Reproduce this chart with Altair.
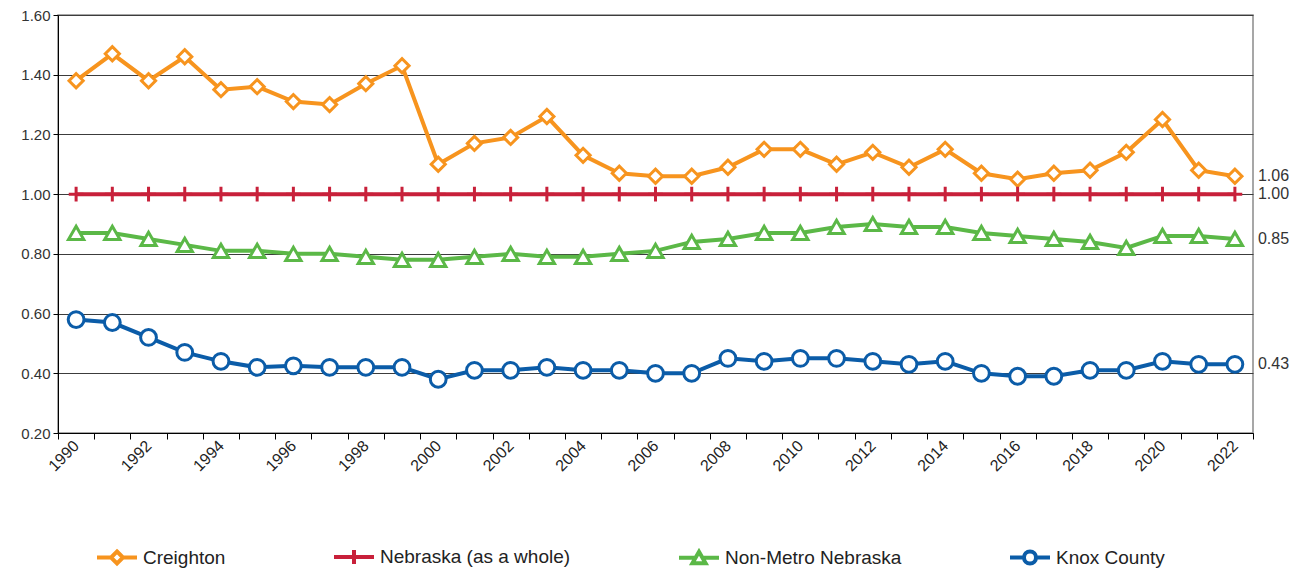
import altair as alt
import pandas as pd

years = [1990, 1991, 1992, 1993, 1994, 1995, 1996, 1997, 1998, 1999, 2000,
         2001, 2002, 2003, 2004, 2005, 2006, 2007, 2008, 2009, 2010, 2011,
         2012, 2013, 2014, 2015, 2016, 2017, 2018, 2019, 2020, 2021, 2022]
creighton = [1.38, 1.47, 1.38, 1.46, 1.35, 1.36, 1.31, 1.30, 1.37, 1.43, 1.10,
             1.17, 1.19, 1.26, 1.13, 1.07, 1.06, 1.06, 1.09, 1.15, 1.15, 1.10,
             1.14, 1.09, 1.15, 1.07, 1.05, 1.07, 1.08, 1.14, 1.25, 1.08, 1.06]
nebraska = [1.00, 1.00, 1.00, 1.00, 1.00, 1.00, 1.00, 1.00, 1.00, 1.00, 1.00,
            1.00, 1.00, 1.00, 1.00, 1.00, 1.00, 1.00, 1.00, 1.00, 1.00, 1.00,
            1.00, 1.00, 1.00, 1.00, 1.00, 1.00, 1.00, 1.00, 1.00, 1.00, 1.00]
nonmetro = [0.87, 0.87, 0.85, 0.83, 0.81, 0.81, 0.80, 0.80, 0.79, 0.78, 0.78,
            0.79, 0.80, 0.79, 0.79, 0.80, 0.81, 0.84, 0.85, 0.87, 0.87, 0.89,
            0.90, 0.89, 0.89, 0.87, 0.86, 0.85, 0.84, 0.82, 0.86, 0.86, 0.85]
knox = [0.58, 0.57, 0.52, 0.47, 0.44, 0.42, 0.425, 0.42, 0.42, 0.42, 0.38,
        0.41, 0.41, 0.42, 0.41, 0.41, 0.40, 0.40, 0.45, 0.44, 0.45, 0.45,
        0.44, 0.43, 0.44, 0.40, 0.39, 0.39, 0.41, 0.41, 0.44, 0.43, 0.43]

series = ["Creighton", "Nebraska (as a whole)", "Non-Metro Nebraska", "Knox County"]
colors = ["#F7941E", "#C8203A", "#5BB847", "#0B5CA8"]
y_ticks = [0.2, 0.4, 0.6, 0.8, 1.0, 1.2, 1.4, 1.6]

marker_shapes = ["diamond", "M0,-1V1M-1,0H1", "triangle-up", "circle"]
marker_sizes = [200, 250, 230, 110]
legend_shapes = [
    "M-1,0H-0.3M0.3,0H1M0,-0.3L0.3,0L0,0.3L-0.3,0Z",
    "M-1,0H1M0,-0.35V0.35",
    "M-1,0H-0.2M0.2,0H1M0,-0.3L0.33,0.27L-0.33,0.27Z",
    "M-1,0H-0.3M0.3,0H1M0.3,0A0.3,0.3 0 1,1 -0.3,0A0.3,0.3 0 1,1 0.3,0Z",
]

rows = []
for name, vals in zip(series, [creighton, nebraska, nonmetro, knox]):
    for yr, v in zip(years, vals):
        rows.append({"year": yr, "value": v, "series": name})
df = pd.DataFrame(rows)

FONT = "Liberation Sans"

x_enc = alt.X(
    "year:O",
    scale=alt.Scale(type="band", domain=years, paddingInner=0, paddingOuter=0),
    axis=alt.Axis(
        title=None, labelAngle=-45, labelAlign="right", labelBaseline="middle",
        labelExpr="datum.value % 2 == 0 ? datum.label : ''",
        tickBand="extent", tickSize=6, tickColor="#000", domainColor="#000",
        labelFont=FONT, labelFontSize=16, labelColor="#222", labelPadding=4,
        grid=False, labelOverlap=False,
    ),
)
y_enc = alt.Y(
    "value:Q",
    scale=alt.Scale(domain=[0.2, 1.6], nice=False, zero=False),
    axis=alt.Axis(
        title=None, values=y_ticks, format=".2f", tickSize=5, tickColor="#000",
        domainColor="#000", gridColor="#3c3c3c", gridWidth=1,
        labelFont=FONT, labelFontSize=15, labelColor="#333", labelPadding=3,
    ),
)

stroke_scale = alt.Scale(domain=series, range=colors)

base = alt.Chart(df)

lines = base.mark_line(strokeWidth=4).encode(
    x=x_enc, y=y_enc,
    stroke=alt.Stroke("series:N", scale=stroke_scale, legend=None),
)

points = base.mark_point(filled=True, fill="white", strokeWidth=3, opacity=1).encode(
    x=x_enc, y=y_enc,
    stroke=alt.Stroke("series:N", scale=stroke_scale, legend=None),
    shape=alt.Shape("series:N", scale=alt.Scale(domain=series, range=marker_shapes), legend=None),
    size=alt.Size("series:N", scale=alt.Scale(domain=series, range=marker_sizes), legend=None),
)

end_labels = base.transform_filter(alt.datum.year == 2022).mark_text(
    align="left", baseline="middle", dx=23, font=FONT, fontSize=16, color="#333"
).encode(
    x=x_enc, y=y_enc, text=alt.Text("value:Q", format=".2f"),
)

legend_layer = base.transform_filter("false").mark_point(
    filled=True, fill="white", strokeWidth=4, size=1600, opacity=1
).encode(
    x=x_enc, y=y_enc,
    stroke=alt.Stroke("series:N", scale=stroke_scale, legend=alt.Legend(title=None)),
    shape=alt.Shape("series:N", scale=alt.Scale(domain=series, range=legend_shapes),
                    legend=alt.Legend(title=None)),
)

chart = alt.layer(lines, points, end_labels, legend_layer).resolve_scale(
    stroke="independent", shape="independent", size="independent"
).properties(
    width=1195, height=418,
    padding={"left": 50, "top": 7, "right": 46, "bottom": 150},
    autosize=alt.AutoSizeParams(type="none"),
).configure_view(
    stroke="#8a8a8a", strokeWidth=1.5
).configure_legend(
    orient="none", legendX=37, legendY=520, direction="horizontal", columns=4,
    columnPadding=100, labelFont=FONT, labelFontSize=19, labelColor="#222",
    labelLimit=0, symbolSize=1600, symbolStrokeWidth=4, symbolFillColor="white",
    labelOffset=4,
)

chart.save("out.html", embed_options={"renderer": "svg", "actions": False})
